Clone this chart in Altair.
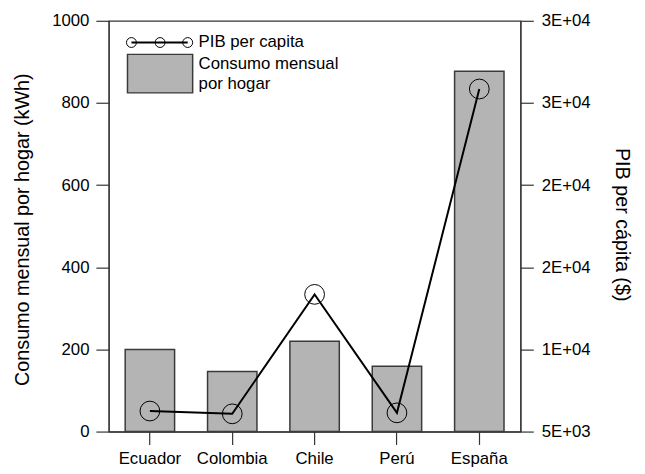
import altair as alt
import pandas as pd

paises = ["Ecuador", "Colombia", "Chile", "Perú", "España"]
consumo = [200, 146, 220, 159, 877]
pib = [6250, 6080, 13350, 6140, 25850]

left_ticks = [0, 200, 400, 600, 800, 1000]
right_ticks = [5000, 10000, 15000, 20000, 25000, 30000]
right_labels = ["5E+03", "1E+04", "2E+04", "2E+04", "3E+04", "3E+04"]

legend_texts = ["PIB per capita", "Consumo mensual\npor hogar"]

df = pd.DataFrame({"pais": paises, "consumo": consumo, "pib": pib})

FONT = "Liberation Sans"

expr = "''"
for v, l in reversed(list(zip(right_ticks, right_labels))):
    expr = f"datum.value == {v} ? '{l}' : ({expr})"

x_enc = alt.X(
    "pais:N",
    sort=paises,
    scale=alt.Scale(paddingInner=0.4, paddingOuter=0.2),
    axis=alt.Axis(title=None, labelAngle=0, tickSize=13, labelPadding=6),
)

bars = alt.Chart(df).mark_bar(
    color="#b4b4b4", stroke="#3a3a3a", strokeWidth=1.5
).encode(
    x=x_enc,
    y=alt.Y(
        "consumo:Q",
        scale=alt.Scale(domain=[0, 1000], nice=False, zero=True),
        axis=alt.Axis(
            orient="left",
            values=left_ticks,
            format="d",
            tickSize=13,
            title="Consumo mensual por hogar (kWh)",
            titlePadding=19,
            titleY=211,
            labelPadding=7,
        ),
    ),
)

line = alt.Chart(df).mark_line(
    color="black",
    strokeWidth=2,
    point=alt.OverlayMarkDef(
        filled=False, shape="circle", size=400, stroke="black", strokeWidth=1
    ),
).encode(
    x=x_enc,
    y=alt.Y(
        "pib:Q",
        scale=alt.Scale(domain=[5000, 30000], nice=False, zero=False),
        axis=alt.Axis(
            orient="right",
            values=right_ticks,
            labelExpr=expr,
            tickSize=13,
            title="PIB per cápita ($)",
            titlePadding=22,
            titleY=206,
            labelPadding=8,
        ),
    ),
)

one = pd.DataFrame({"k": [0]})

leg_rule = alt.Chart(one).mark_rule(color="black", strokeWidth=2).encode(
    x=alt.value(23), x2=alt.value(80), y=alt.value(22)
)
leg_pts = [
    alt.Chart(one).mark_point(
        shape="circle", size=100, filled=False, stroke="black", strokeWidth=1, opacity=1
    ).encode(x=alt.value(px), y=alt.value(22))
    for px in (23, 52, 80)
]
leg_rect = alt.Chart(one).mark_rect(
    color="#b4b4b4", stroke="#3a3a3a", strokeWidth=1.5
).encode(x=alt.value(19), x2=alt.value(85), y=alt.value(34), y2=alt.value(73))
leg_t1 = alt.Chart(pd.DataFrame({"t": [legend_texts[0]]})).mark_text(
    align="left", baseline="middle", font=FONT, fontSize=17, color="black"
).encode(text="t:N", x=alt.value(91), y=alt.value(22))
leg_t2 = alt.Chart(pd.DataFrame({"t": [legend_texts[1]]})).mark_text(
    align="left", baseline="middle", font=FONT, fontSize=17, color="black",
    lineBreak="\n", lineHeight=20
).encode(text="t:N", x=alt.value(91), y=alt.value(44))

chart = alt.layer(
    bars, line, leg_rule, *leg_pts, leg_rect, leg_t1, leg_t2
).resolve_scale(y="independent").properties(
    width=417,
    height=416,
    background="white",
    autosize=alt.AutoSizeParams(type="none"),
    padding={"left": 102, "top": 10, "right": 118, "bottom": 40},
).configure_view(
    stroke="#333333", strokeWidth=1.2
).configure_axis(
    domainColor="#333333",
    tickColor="#333333",
    domainWidth=1.2,
    tickWidth=1.2,
    grid=False,
    labelFont=FONT,
    labelFontSize=17,
    labelColor="black",
    titleFont=FONT,
    titleFontSize=20,
    titleFontWeight="normal",
    titleColor="black",
)

chart.save("out.html", embed_options={"renderer": "svg", "actions": False})
